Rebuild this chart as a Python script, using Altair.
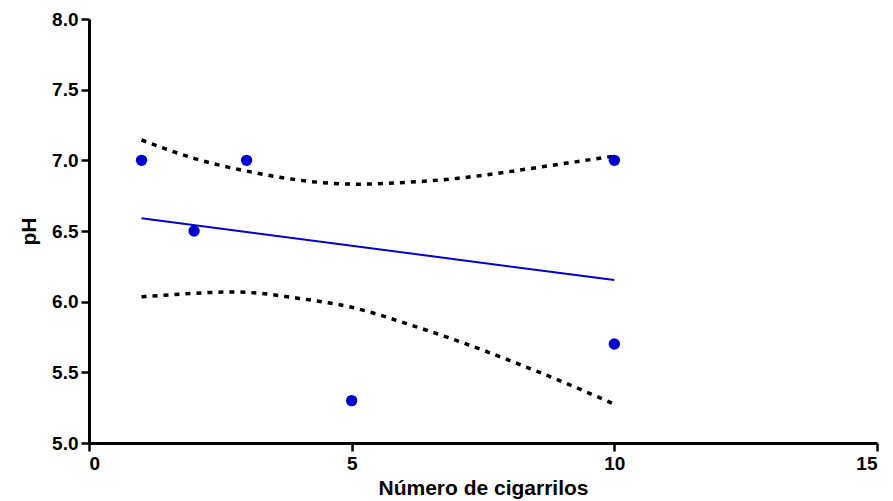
import altair as alt
import pandas as pd

# Observed pH per number of cigarillos
cig = [1, 2, 3, 5, 10, 10]
ph = [7.0, 6.5, 7.0, 5.3, 7.0, 5.7]

# Fitted linear regression line (end points)
fit_x = [1, 10]
fit_y = [6.59, 6.153]

# 95% confidence band of the fit
band_x = [1, 2, 3, 4, 5, 6, 7, 8, 9, 10]
band_hi = [7.144, 7.014, 6.924, 6.86, 6.832, 6.843, 6.872, 6.92, 6.975, 7.03]
band_lo = [6.035, 6.059, 6.066, 6.023, 5.96, 5.85, 5.725, 5.585, 5.435, 5.275]

x_ticks = [0, 5, 10, 15]
y_ticks = [5.0, 5.5, 6.0, 6.5, 7.0, 7.5, 8.0]

pts = pd.DataFrame({"x": cig, "y": ph})
fit = pd.DataFrame({"x": fit_x, "y": fit_y})
band = pd.concat([
    pd.DataFrame({"x": band_x, "y": band_hi, "side": "upper"}),
    pd.DataFrame({"x": band_x, "y": band_lo, "side": "lower"}),
])

label_style = dict(labelFont="Liberation Sans", labelFontWeight="bold",
                   labelFontSize=19, labelColor="black")

x_enc = alt.X("x:Q", scale=alt.Scale(domain=[0, 15], nice=False, zero=False),
              axis=alt.Axis(values=x_ticks, title="Número de cigarrilos",
                            format="d", labelPadding=3, titlePadding=4,
                            **label_style))
y_enc = alt.Y("y:Q", scale=alt.Scale(domain=[5, 8], nice=False, zero=False),
              axis=alt.Axis(values=y_ticks, title="pH", format=".1f",
                            labelPadding=3, titlePadding=12, **label_style))

bands = alt.Chart(band).mark_line(
    color="black", strokeWidth=3.5, strokeDash=[5, 6], interpolate="natural"
).encode(x=x_enc, y=y_enc, detail="side:N")

line = alt.Chart(fit).mark_line(color="#0000cc", strokeWidth=2).encode(x="x:Q", y="y:Q")

dots = alt.Chart(pts).mark_circle(color="#0000cc", opacity=1, size=130).encode(x="x:Q", y="y:Q")

chart = alt.layer(bands, line, dots).properties(
    width=788, height=424,
    autosize=alt.AutoSizeParams(type="none"),
    padding={"left": 89, "top": 19, "right": 16, "bottom": 58},
    background="white",
).configure_view(stroke=None).configure_axis(
    grid=False,
    domainColor="black", domainWidth=3,
    tickColor="black", tickWidth=2.5, tickSize=8,
    titleFont="Liberation Sans", titleFontWeight="bold", titleFontSize=21,
    titleColor="black",
)

chart.save("out.html", embed_options={"renderer": "svg", "actions": False})
